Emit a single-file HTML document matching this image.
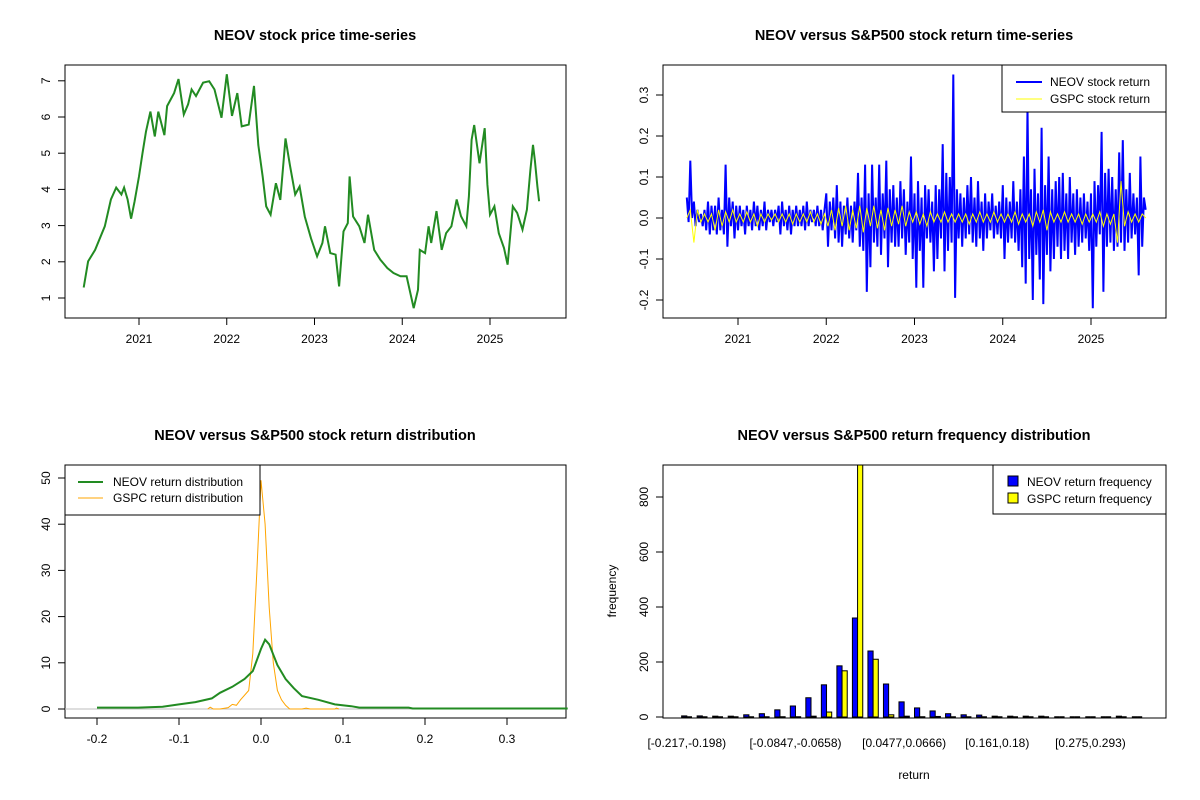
<!DOCTYPE html>
<html><head><meta charset="utf-8"><style>
html,body{margin:0;padding:0;background:#fff}
svg{display:block;font-family:"Liberation Sans",Arial,sans-serif}
.t{font-weight:bold;font-size:14.5px;text-anchor:middle}
.tk{font-size:12px}
</style></head><body>
<svg id="c" width="1200" height="800" viewBox="0 0 1200 800" xmlns="http://www.w3.org/2000/svg">
<rect width="1200" height="800" fill="#fff"/>
<text class="t" x="315" y="40">NEOV stock price time-series</text>
<text class="t" x="914" y="40">NEOV versus S&amp;P500 stock return time-series</text>
<text class="t" x="315" y="440">NEOV versus S&amp;P500 stock return distribution</text>
<text class="t" x="914" y="440">NEOV versus S&amp;P500 return frequency distribution</text>
<g id="g1"></g>
<g id="g2"></g>
<g id="g3"></g>
<g id="g4"></g>
<text class="tk" x="914" y="779" text-anchor="middle">return</text>
<text class="tk" x="616" y="591" text-anchor="middle" transform="rotate(-90 616 591)">frequency</text>
</svg>
<script>
// ---- Panel 1: price ----
const priceDates=[2020.37,2020.42,2020.5,2020.61,2020.68,2020.74,2020.8,2020.83,2020.87,2020.91,2020.95,2021.0,2021.04,2021.08,2021.13,2021.18,2021.22,2021.29,2021.32,2021.4,2021.45,2021.51,2021.56,2021.6,2021.65,2021.73,2021.8,2021.86,2021.94,2022.0,2022.06,2022.12,2022.17,2022.25,2022.31,2022.36,2022.41,2022.45,2022.5,2022.56,2022.61,2022.67,2022.72,2022.78,2022.83,2022.89,2022.96,2023.03,2023.09,2023.12,2023.18,2023.24,2023.28,2023.33,2023.38,2023.4,2023.44,2023.51,2023.57,2023.61,2023.68,2023.75,2023.83,2023.9,2023.98,2024.05,2024.13,2024.18,2024.2,2024.26,2024.3,2024.33,2024.39,2024.45,2024.5,2024.56,2024.62,2024.67,2024.73,2024.76,2024.79,2024.82,2024.88,2024.94,2024.97,2025.0,2025.05,2025.1,2025.16,2025.2,2025.26,2025.31,2025.37,2025.42,2025.46,2025.49,2025.51,2025.54,2025.56];
const priceValues=[1.29,2.01,2.33,2.98,3.72,4.05,3.86,4.05,3.72,3.19,3.67,4.36,5.0,5.6,6.15,5.46,6.15,5.5,6.3,6.66,7.05,6.07,6.35,6.76,6.58,6.95,6.99,6.76,5.98,7.18,6.03,6.66,5.74,5.79,6.86,5.23,4.35,3.53,3.3,4.17,3.71,5.41,4.67,3.86,4.08,3.25,2.65,2.15,2.52,2.98,2.24,2.2,1.32,2.84,3.07,4.36,3.25,2.98,2.52,3.3,2.33,2.06,1.83,1.69,1.6,1.6,0.72,1.23,2.33,2.24,2.98,2.52,3.4,2.33,2.79,2.98,3.72,3.26,2.98,3.81,5.37,5.78,4.72,5.69,4.13,3.3,3.53,2.79,2.38,1.92,3.53,3.35,2.89,3.44,4.54,5.23,4.82,4.08,3.67];
const priceTicks=[1,2,3,4,5,6,7];
const yearTicks=[2021,2022,2023,2024,2025];
// ---- Panel 2: returns ----
const retStart=2020.42, retEnd=2025.62;
const neovReturns=[0.05,-0.01,0.14,0.00,0.04,-0.02,0.02,-0.01,0.01,-0.02,0.02,-0.03,0.04,-0.04,0.03,-0.03,0.03,-0.04,0.05,-0.03,0.02,-0.04,0.13,-0.07,0.05,-0.02,0.04,-0.05,0.03,
-0.03,0.03,-0.02,0.02,-0.04,0.03,-0.02,0.02,-0.03,0.04,-0.02,0.03,-0.03,0.02,-0.02,0.04,-0.03,0.02,-0.01,0.02,-0.02,0.02,-0.01,0.03,-0.04,0.04,-0.02,0.02,-0.03,0.03,-0.04,0.02,-0.02,0.03,-0.02,0.02,-0.02,0.03,-0.03,0.04,-0.02,0.02,-0.01,0.02,-0.02,0.03,-0.02,0.02,-0.03,0.02,
0.06,-0.07,0.04,-0.03,0.05,-0.05,0.08,-0.06,0.04,-0.07,0.03,-0.04,0.05,-0.05,0.03,-0.06,0.04,-0.03,0.11,-0.07,
0.05,-0.08,0.13,-0.18,0.06,-0.12,0.13,-0.06,0.05,-0.07,0.13,-0.09,0.06,-0.05,0.14,-0.12,0.07,-0.06,0.08,-0.07,0.05,-0.07,0.09,-0.05,0.07,-0.09,0.04,-0.06,0.15,-0.10,
0.06,-0.17,0.09,-0.08,0.05,-0.17,0.08,-0.05,0.07,-0.06,0.04,-0.13,0.08,-0.10,0.07,-0.05,0.18,-0.13,0.11,-0.08,0.10,-0.06,0.35,-0.195,0.07,-0.05,0.06,-0.07,
0.05,-0.05,0.08,-0.04,0.10,-0.06,0.05,-0.07,0.09,-0.05,0.04,-0.08,0.06,-0.05,0.04,-0.03,0.06,-0.05,0.03,-0.04,0.04,-0.05,0.08,-0.10,0.05,-0.06,0.04,-0.05,0.09,-0.06,0.04,-0.08,
0.07,-0.12,0.15,-0.16,0.27,-0.10,0.07,-0.20,0.12,-0.09,0.06,-0.15,0.22,-0.21,0.08,-0.09,0.15,-0.13,0.07,-0.10,0.09,-0.07,0.10,
-0.10,0.11,-0.08,0.06,-0.10,0.10,-0.06,0.06,-0.09,0.07,-0.07,0.05,-0.06,0.06,-0.05,0.04,-0.08,0.06,
-0.22,0.09,-0.07,0.08,-0.04,0.21,-0.18,0.11,-0.07,0.12,-0.06,0.10,-0.08,0.07,-0.07,0.16,-0.06,0.19,-0.08,0.07,-0.06,0.11,-0.05,0.06,-0.04,0.05,-0.14,0.15,-0.07,0.05,0.02];
const gspcReturns=[0.00,0.02,-0.06,0.02,-0.01,0.01,-0.01,0.01,-0.03,0.02,-0.02,0.015,-0.01,0.02,-0.01,
0.01,-0.01,0.015,-0.01,0.01,-0.02,0.01,-0.01,0.01,-0.005,0.01,-0.01,0.01,-0.01,0.01,-0.015,0.01,-0.01,0.01,-0.01,0.015,-0.01,0.01,-0.015,0.01,
-0.02,0.02,-0.03,0.025,-0.02,0.03,-0.03,0.02,-0.025,0.03,-0.035,0.025,-0.02,0.03,-0.025,0.02,-0.03,0.025,-0.02,0.02,-0.015,0.03,-0.02,0.015,-0.01,
0.015,-0.015,0.01,-0.02,0.015,-0.01,0.01,-0.01,0.015,-0.01,0.01,-0.01,0.01,-0.01,0.01,-0.015,0.01,-0.01,0.015,-0.01,0.01,-0.01,0.015,-0.01,0.01,
-0.01,0.01,-0.01,0.015,-0.015,0.01,-0.01,0.01,-0.02,0.015,-0.01,0.02,-0.03,0.015,-0.01,0.01,-0.01,0.015,-0.01,0.01,-0.01,0.01,-0.015,0.01,-0.01,
0.01,-0.01,0.015,-0.02,0.01,-0.015,0.01,-0.06,0.09,-0.02,0.015,-0.01,0.01,-0.01,0.01,0.00];
const retTicks=[-0.2,-0.1,0.0,0.1,0.2,0.3];
const retTickLabels=["-0.2","-0.1","0.0","0.1","0.2","0.3"];
// ---- Panel 3: density ----
const neovDensX=[-0.2,-0.15,-0.12,-0.1,-0.08,-0.06,-0.05,-0.035,-0.02,-0.01,0,0.005,0.01,0.02,0.03,0.04,0.05,0.07,0.09,0.11,0.12,0.18,0.185,0.374];
const neovDensY=[0.3,0.3,0.5,1.0,1.5,2.3,3.5,4.8,6.5,8.2,13,15,14,9.5,6.5,4.5,2.8,2.0,1.0,0.6,0.3,0.3,0.1,0.1];
const gspcDensX=[-0.065,-0.062,-0.058,-0.05,-0.04,-0.035,-0.03,-0.025,-0.015,-0.01,-0.005,0,0.005,0.01,0.015,0.02,0.025,0.03,0.035,0.05,0.055,0.06,0.09,0.092,0.095];
const gspcDensY=[0,0.4,0,0,0.3,1,0.8,2,4,12,30,49.5,40,22,10,4,2,0.8,0,0,0.2,0,0,0.2,0];
const densXTicks=[-0.2,-0.1,0.0,0.1,0.2,0.3];
const densXLabels=["-0.2","-0.1","0.0","0.1","0.2","0.3"];
const densYTicks=[0,10,20,30,40,50];
// ---- Panel 4: frequency ----
const neovFreq=[4,4,3,3,8,12,26,40,70,117,186,360,240,120,55,33,22,12,8,7,3,3,3,3,0,0,0,0,3,0];
const gspcFreq=[0,0,0,0,0,0,1,1,3,18,168,1000,210,8,3,1,2,0,0,0,0,0,0,0,0,0,0,0,0,0];
const binLabels={0:"[-0.217,-0.198)",7:"[-0.0847,-0.0658)",14:"[0.0477,0.0666)",20:"[0.161,0.18)",26:"[0.275,0.293)"};
const freqTicks=[0,200,400,600,800];

const NS="http://www.w3.org/2000/svg";
function mk(p,tag,attrs){const e=document.createElementNS(NS,tag);for(const k in attrs)e.setAttribute(k,attrs[k]);p.appendChild(e);return e;}
function box(g,x0,y0,x1,y1){const r=mk(g,'rect',{x:x0,y:y0,width:x1-x0,height:y1-y0,fill:'none',stroke:'#000','stroke-width':1});

}
function yTick(g,x,y,label){const l=mk(g,'line',{x1:x,x2:x-7,y1:y,y2:y,stroke:'#000'});


const t=mk(g,'text',{x:x-15,y:y,'text-anchor':'middle',class:'tk',transform:`rotate(-90 ${x-15} ${y})`});


t.textContent=label;}
function xTick(g,x,y,label){const l=mk(g,'line',{x1:x,x2:x,y1:y,y2:y+7,stroke:'#000'});


const t=mk(g,'text',{x:x,y:y+25,'text-anchor':'middle',class:'tk'});


t.textContent=label;}

// Panel 1
(function(){const g=document.getElementById('g1');
const L=65,R=566,T=65,B=318;
const xs=yr=>139+(yr-2021)*87.75, ys=v=>298-(v-1)*36.2;
box(g,L,T,R,B);
mk(g,'line',{x1:L,x2:L,y1:ys(1),y2:ys(7),stroke:'#000'});
mk(g,'line',{x1:xs(2021),x2:xs(2025),y1:B,y2:B,stroke:'#000'});
priceTicks.forEach(v=>yTick(g,L,ys(v),String(v)));
yearTicks.forEach(y=>xTick(g,xs(y),B,String(y)));
let d='';priceDates.forEach((x,i)=>{d+=(i?'L':'M')+xs(x).toFixed(1)+','+ys(priceValues[i]).toFixed(1);});
const p=mk(g,'path',{d:d,fill:'none',stroke:'#228B22','stroke-width':2,'stroke-linejoin':'miter'});


})();

// Panel 2
(function(){const g=document.getElementById('g2');
const L=663,R=1166,T=65,B=318;
const xs=yr=>738+(yr-2021)*88.25, ys=v=>218-v*410;
box(g,L,T,R,B);
mk(g,'line',{x1:L,x2:L,y1:ys(-0.2),y2:ys(0.3),stroke:'#000'});
mk(g,'line',{x1:xs(2021),x2:xs(2025),y1:B,y2:B,stroke:'#000'});
retTicks.forEach((v,i)=>yTick(g,L,ys(v),retTickLabels[i]));
yearTicks.forEach(y=>xTick(g,xs(y),B,String(y)));
function line(arr,col,w,name){let d='';const n=arr.length;arr.forEach((v,i)=>{const yr=retStart+(retEnd-retStart)*i/(n-1);d+=(i?'L':'M')+xs(yr).toFixed(1)+','+ys(v).toFixed(1);});
const p=mk(g,'path',{d:d,fill:'none',stroke:col,'stroke-width':w});

}
line(neovReturns,'#0000FF',2,'neov-return-line');
line(gspcReturns,'#FFFF00',1,'gspc-return-line');
const lg=mk(g,'g',{});


mk(lg,'rect',{x:1002,y:65,width:164,height:47,fill:'#fff',stroke:'#000'});
mk(lg,'line',{x1:1016,x2:1042,y1:82,y2:82,stroke:'#0000FF','stroke-width':2});
mk(lg,'line',{x1:1016,x2:1042,y1:99,y2:99,stroke:'#FFFF00','stroke-width':1});
const t1=mk(lg,'text',{x:1050,y:86,class:'tk'});t1.textContent='NEOV stock return';

const t2=mk(lg,'text',{x:1050,y:103,class:'tk'});t2.textContent='GSPC stock return';

})();

// Panel 3
(function(){const g=document.getElementById('g3');
const L=65,R=566,T=465,B=718;
const xs=v=>261+v*820, ys=v=>709-v*4.62;
box(g,L,T,R,B);
mk(g,'line',{x1:L,x2:L,y1:ys(0),y2:ys(50),stroke:'#000'});
mk(g,'line',{x1:xs(-0.2),x2:xs(0.3),y1:B,y2:B,stroke:'#000'});
densYTicks.forEach(v=>yTick(g,L,ys(v),String(v)));
densXTicks.forEach((v,i)=>xTick(g,xs(v),B,densXLabels[i]));
mk(g,'line',{x1:L,x2:R,y1:ys(0),y2:ys(0),stroke:'#bebebe'});
function line(X,Y,col,w,name){let d='';X.forEach((x,i)=>{d+=(i?'L':'M')+xs(x).toFixed(1)+','+ys(Y[i]).toFixed(1);});
const p=mk(g,'path',{d:d,fill:'none',stroke:col,'stroke-width':w});

}
line(gspcDensX,gspcDensY,'#FFA500',1,'gspc-density-line');
line(neovDensX,neovDensY,'#228B22',2,'neov-density-line');
const lg=mk(g,'g',{});


mk(lg,'rect',{x:65,y:465,width:195,height:50,fill:'#fff',stroke:'#000'});
mk(lg,'line',{x1:78,x2:103,y1:482,y2:482,stroke:'#228B22','stroke-width':2});
mk(lg,'line',{x1:78,x2:103,y1:498,y2:498,stroke:'#FFA500','stroke-width':1});
const t1=mk(lg,'text',{x:113,y:486,class:'tk'});t1.textContent='NEOV return distribution';

const t2=mk(lg,'text',{x:113,y:502,class:'tk'});t2.textContent='GSPC return distribution';

})();

// Panel 4
(function(){const g=document.getElementById('g4');
const L=663,R=1166,T=465,B=718;
const u=(R-L)/97.2, ux=v=>L+(v+2.6)*u, ys=v=>717-v*0.275;
const clip=mk(g,'clipPath',{id:'cp4'});mk(clip,'rect',{x:L,y:T,width:R-L,height:B-T});
const bars=mk(g,'g',{'clip-path':'url(#cp4)'});
function bar(x0,v,col,name){
 if(v<=0){const l=mk(bars,'line',{x1:x0,x2:x0+u,y1:717,y2:717,stroke:'#000','stroke-width':1.5});
 
 return;}
 const r=mk(bars,'rect',{x:x0,y:ys(v),width:u,height:717-ys(v),fill:col,stroke:'#000','stroke-width':1});
 
 }
neovFreq.forEach((v,i)=>{const x0=ux(1+3*i);
bar(x0,v,'#0000FF','bar-neov');
bar(x0+u,gspcFreq[i],'#FFFF00','bar-gspc');
if(binLabels[i]!==undefined){const t=mk(g,'text',{x:ux(2+3*i),y:747,'text-anchor':'middle',class:'tk'});t.textContent=binLabels[i];

}
});
box(g,L,T,R,B);
mk(g,'line',{x1:L,x2:L,y1:ys(0),y2:ys(800),stroke:'#000'});
freqTicks.forEach(v=>yTick(g,L,ys(v),String(v)));
const lg=mk(g,'g',{});


mk(lg,'rect',{x:993,y:465,width:173,height:49,fill:'#fff',stroke:'#000'});
mk(lg,'rect',{x:1008,y:476,width:10,height:10,fill:'#0000FF',stroke:'#000'});
mk(lg,'rect',{x:1008,y:493,width:10,height:10,fill:'#FFFF00',stroke:'#000'});
const t1=mk(lg,'text',{x:1027,y:486,class:'tk'});t1.textContent='NEOV return frequency';

const t2=mk(lg,'text',{x:1027,y:503,class:'tk'});t2.textContent='GSPC return frequency';

})();
</script>
</body></html>
